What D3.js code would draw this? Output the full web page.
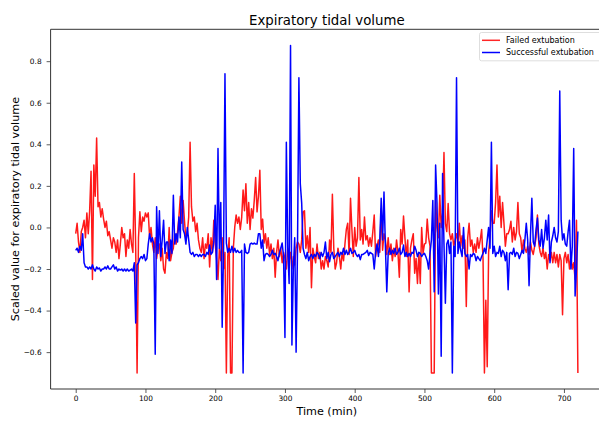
<!DOCTYPE html>
<html>
<head>
<meta charset="utf-8">
<script src="https://cdn.jsdelivr.net/npm/d3@7"></script>
<style>
  body { margin: 0; background: #ffffff; }
  svg { display: block; }
  text { font-family: "DejaVu Sans", sans-serif; fill: #000; }
</style>
</head>
<body>
<svg id="chart" width="599" height="422"></svg>
<script>
// Scaled expiratory tidal volume, one reading every 2 minutes (0..720 min)
const sampleStepMin = 2;

const failedValues = [
  -0.03, 0.02, -0.07, -0.12, -0.02, 0.0, 0.035, -0.05, 0.07, -0.03,
  0.08, 0.27, -0.25, 0.3, 0.15, 0.43, 0.1, 0.12, 0.05, 0.09,
  0.04, 0.0, 0.03, -0.04, -0.02, -0.06, -0.1, -0.05, -0.07, -0.12,
  -0.06, -0.15, -0.08, 0.0, -0.05, -0.03, -0.14, -0.06, -0.1, -0.01,
  -0.08, -0.12, 0.26, -0.1, -0.7, -0.05, 0.075, -0.02, 0.05, 0.03,
  0.07, 0.05, 0.07, -0.05, 0.0, -0.08, -0.12, -0.05, -0.15, -0.1,
  -0.08, -0.16, -0.1, -0.2, -0.22, -0.12, -0.15, 0.0, -0.16, -0.12,
  -0.1, -0.03, -0.08, -0.02, 0.05, 0.15, 0.02, 0.13, 0.03, -0.06,
  -0.03, 0.05, 0.41, 0.1, 0.03, 0.05, -0.02, 0.02, -0.06, -0.1,
  -0.12, -0.05, -0.15, -0.08, -0.1, -0.03, -0.19, -0.05, -0.12, 0.035,
  -0.08, -0.15, -0.25, -0.1, -0.16, -0.05, -0.2, -0.12, -0.7, -0.14,
  -0.05, -0.7, -0.7, -0.1, 0.0, 0.06, 0.02, 0.05, -0.01, 0.05,
  0.18, 0.08, 0.21, 0.02, 0.12, -0.01, 0.09, 0.045, 0.13, 0.24,
  0.075, 0.15, 0.275, -0.01, 0.04, -0.075, -0.03, -0.1, -0.05, -0.13,
  -0.08, -0.15, -0.1, -0.24, -0.12, -0.06, -0.14, -0.1, -0.17, -0.12,
  -0.15, -0.2, -0.1, -0.16, -0.12, -0.2, -0.14, -0.18, -0.1, -0.07,
  -0.08, -0.12, -0.06, 0.075, 0.08, -0.1, -0.04, -0.12, 0.0, -0.29,
  -0.1, -0.14, -0.17, -0.08, -0.15, -0.12, -0.2, -0.16, -0.2, -0.14,
  -0.16, -0.19, -0.06, -0.12, 0.16, -0.1, -0.2, -0.17, -0.1, -0.14,
  -0.2, -0.12, -0.16, -0.08, -0.01, 0.02, -0.13, 0.14, -0.01, -0.14,
  0.0, -0.09, -0.05, 0.24, -0.06, -0.01, -0.08, 0.05, -0.06, -0.04,
  -0.09, -0.05, -0.09, -0.02, 0.06, -0.14, -0.09, -0.06, -0.12, 0.09,
  -0.11, -0.03, -0.06, -0.13, -0.05, -0.13, -0.08, -0.16, -0.1, -0.14,
  -0.06, -0.12, -0.24, -0.01, -0.08, 0.055, -0.05, -0.14, -0.06, -0.31,
  -0.1, -0.06, -0.03, -0.22, -0.15, -0.27, -0.12, -0.27, 0.0, -0.125,
  -0.08, -0.075, 0.04, -0.05, -0.09, -0.7, -0.7, -0.7, 0.13, 0.0,
  -0.05, 0.155, 0.0, 0.07, 0.36, 0.02, -0.02, 0.115, -0.03, -0.06,
  -0.03, -0.09, -0.06, -0.03, -0.08, 0.02, -0.09, -0.04, -0.1, -0.06,
  -0.38, -0.05, 0.02, -0.09, -0.06, -0.12, -0.08, -0.12, -0.05, -0.1,
  -0.06, -0.01, -0.15, -0.7, -0.35, -0.67, -0.12, -0.05, 0.08, 0.02,
  0.02, 0.12, 0.3, 0.05, 0.15, 0.0, 0.12, 0.02, -0.09, -0.03,
  -0.03, -0.01, 0.03, -0.07, 0.0, -0.06, -0.02, 0.12, -0.03, -0.05,
  -0.12, -0.06, -0.1, -0.12, -0.09, -0.13, -0.07, -0.11, -0.13, -0.09,
  -0.05, 0.06, -0.08, -0.12, -0.14, -0.1, -0.15, -0.12, -0.2, -0.13,
  -0.16, -0.12, -0.17, -0.12, -0.17, -0.13, -0.19, -0.13, -0.16, -0.42,
  -0.15, -0.12, -0.17, -0.13, -0.2, -0.14, -0.2, -0.17, -0.25, 0.035, -0.7
];

const successValues = [
  -0.11, -0.1, -0.12, -0.09, -0.11, -0.03, -0.17, -0.19, -0.19, -0.2,
  -0.19, -0.2, -0.18, -0.2, -0.21, -0.19, -0.2, -0.195, -0.21, -0.2,
  -0.2, -0.19, -0.2, -0.185, -0.2, -0.2, -0.19, -0.18, -0.2, -0.19,
  -0.21, -0.2, -0.205, -0.2, -0.21, -0.2, -0.21, -0.2, -0.21, -0.205,
  -0.2, -0.21, -0.17, -0.46, -0.18, -0.17, -0.15, -0.14, -0.15, -0.13,
  -0.16, -0.15, -0.08, -0.03, -0.07, -0.05, -0.08, -0.61, 0.1, -0.125,
  0.08, -0.14, -0.06, 0.035, -0.125, -0.07, -0.07, -0.16, -0.06, -0.125,
  0.155, -0.08, -0.03, -0.07, 0.05, -0.05, 0.315, -0.01, -0.03, -0.08,
  0.0, -0.06, -0.12, -0.13, -0.12, -0.14, -0.13, -0.13, -0.14, -0.13,
  -0.14, -0.13, -0.13, -0.14, -0.12, -0.13, -0.085, -0.13, -0.12, -0.07,
  0.107, -0.25, 0.38, -0.1, 0.12, -0.48, -0.1, 0.74, -0.075, -0.12,
  -0.1, -0.12, -0.09, -0.12, -0.1, -0.12, -0.11, -0.12, -0.12, -0.11,
  -0.7, -0.08, -0.12, -0.125, -0.12, -0.08, -0.075, -0.08, -0.075, -0.08,
  -0.08, -0.03, -0.03, -0.1, -0.06, -0.16, -0.13, -0.125, -0.13, -0.14,
  -0.13, -0.11, -0.13, -0.125, -0.14, -0.16, -0.125, -0.1, -0.075, -0.14,
  -0.53, 0.41, -0.1, -0.27, 0.876, -0.566, -0.2, -0.05, -0.6, -0.1,
  0.72, 0.21, 0.117, -0.1, -0.13, -0.15, -0.12, -0.16, -0.14, -0.13,
  -0.15, -0.13, -0.14, -0.12, -0.13, -0.15, -0.12, -0.14, -0.12, -0.07,
  -0.15, -0.12, -0.165, -0.13, -0.12, -0.15, -0.14, -0.13, -0.12, -0.14,
  -0.12, -0.13, -0.1, -0.13, -0.11, -0.13, -0.12, -0.1, -0.125, -0.12,
  -0.11, -0.13, -0.14, -0.13, -0.155, -0.13, -0.13, -0.125, -0.12, -0.11,
  -0.135, -0.12, -0.125, -0.13, -0.2, -0.12, -0.08, -0.14, -0.06, 0.14,
  -0.06, 0.17, -0.09, -0.31, -0.125, -0.1, -0.13, -0.11, -0.125, -0.1,
  -0.13, -0.12, -0.1, -0.13, -0.12, -0.085, -0.14, -0.12, -0.14, -0.125,
  -0.14, -0.12, -0.125, -0.09, -0.11, -0.14, -0.12, -0.125, -0.14, -0.13,
  -0.125, -0.14, -0.16, -0.2, -0.125, -0.06, 0.13, -0.31, 0.3, 0.117,
  -0.32, 0.02, -0.62, 0.26, -0.08, -0.365, -0.08, -0.06, -0.125, -0.07,
  -0.7, -0.09, -0.14, 0.72, -0.125, -0.07, -0.11, -0.14, 0.0, -0.125,
  -0.14, -0.13, -0.2, -0.13, -0.14, -0.125, -0.13, -0.16, -0.14, -0.15,
  -0.16, -0.14, -0.125, -0.1, -0.125, -0.06, 0.0, -0.1, 0.41, -0.125,
  -0.09, -0.14, -0.12, -0.125, -0.09, -0.14, -0.11, -0.12, -0.16, -0.12,
  -0.3, -0.125, -0.12, -0.13, -0.1, -0.14, -0.12, -0.125, -0.15, -0.13,
  -0.11, -0.125, -0.06, 0.02, -0.06, -0.28, -0.04, 0.14, -0.07, -0.09,
  -0.01, 0.045, -0.06, -0.09, -0.01, -0.1, -0.05, 0.035, -0.06, 0.06,
  -0.17, -0.07, -0.04, 0.0, -0.05, -0.07, -0.02, 0.657, 0.035, -0.06,
  -0.03, -0.08, -0.09, -0.02, 0.035, -0.2, -0.09, 0.38, -0.33, -0.2, -0.02
];

const seriesNames = ["Failed extubation", "Successful extubation"];
const seriesColors = ["#ff0000", "#0000ff"];
const xTicks = [0, 100, 200, 300, 400, 500, 600, 700];
const yTicks = [-0.6, -0.4, -0.2, 0.0, 0.2, 0.4, 0.6, 0.8];
const titleText = "Expiratory tidal volume";
const xLabel = "Time (min)";
const yLabel = "Scaled value for expiratory tidal volume";

const svg = d3.select("#chart");
const plot = { left: 50.6, right: 603, top: 29.3, bottom: 389 };

const x = d3.scaleLinear().domain([-36, 756]).range([plot.left, plot.right]);
const y = d3.scaleLinear().domain([-0.7774, 0.9534]).range([plot.bottom, plot.top]);

const series = [failedValues, successValues].map((vals, k) => ({
  name: seriesNames[k],
  color: seriesColors[k],
  points: vals.map((v, i) => ({ t: i * sampleStepMin, v }))
}));

// clip to the axes box
svg.append("defs").append("clipPath").attr("id", "plotClip")
  .append("rect")
  .attr("x", plot.left).attr("y", plot.top)
  .attr("width", plot.right - plot.left).attr("height", plot.bottom - plot.top);

const line = d3.line().x(d => x(d.t)).y(d => y(d.v));

svg.append("g").attr("clip-path", "url(#plotClip)")
  .selectAll("path")
  .data(series)
  .join("path")
  .attr("d", d => line(d.points))
  .attr("fill", "none")
  .attr("stroke", d => d.color)
  .attr("stroke-width", 1.5)
  .attr("stroke-opacity", (d, i) => i === 0 ? 0.9 : 1)
  .attr("stroke-linejoin", "round");

// axes
const fmtY = d3.format(".1f");
const xAxis = svg.append("g")
  .attr("transform", `translate(0,${plot.bottom})`)
  .call(d3.axisBottom(x).tickValues(xTicks).tickFormat(d3.format("d")).tickSize(4).tickPadding(3));
const yAxis = svg.append("g")
  .attr("transform", `translate(${plot.left},0)`)
  .call(d3.axisLeft(y).tickValues(yTicks).tickFormat(fmtY).tickSize(4).tickPadding(5));

[xAxis, yAxis].forEach(g => {
  g.select(".domain").remove();
  g.selectAll(".tick line").attr("stroke", "#333").attr("stroke-width", 0.8);
  g.selectAll(".tick text").attr("font-size", 7.4).attr("fill", "#222")
    .style("font-family", "'DejaVu Sans', sans-serif");
});

// frame: left, bottom and top spines
const spine = svg.append("g").attr("stroke", "#333").attr("stroke-width", 1).attr("fill", "none");
spine.append("line").attr("x1", plot.left).attr("x2", plot.left).attr("y1", plot.top).attr("y2", plot.bottom);
spine.append("line").attr("x1", plot.left).attr("x2", plot.right).attr("y1", plot.bottom).attr("y2", plot.bottom);
spine.append("line").attr("x1", plot.left).attr("x2", plot.right).attr("y1", plot.top).attr("y2", plot.top);
spine.append("line").attr("x1", plot.right).attr("x2", plot.right).attr("y1", plot.top).attr("y2", plot.bottom);

// title and axis labels
svg.append("text")
  .attr("x", (plot.left + plot.right) / 2).attr("y", 25)
  .attr("text-anchor", "middle").attr("font-size", 13.3)
  .text(titleText);

svg.append("text")
  .attr("x", (plot.left + plot.right) / 2).attr("y", 415)
  .attr("text-anchor", "middle").attr("font-size", 11.2)
  .text(xLabel);

svg.append("text")
  .attr("transform", `translate(19,${(plot.top + plot.bottom) / 2}) rotate(-90)`)
  .attr("text-anchor", "middle").attr("font-size", 11.2)
  .text(yLabel);

// legend
const legend = svg.append("g");
legend.append("rect")
  .attr("x", 479.5).attr("y", 32.5).attr("width", 130).attr("height", 28.3)
  .attr("rx", 2).attr("fill", "#fff").attr("fill-opacity", 0.8)
  .attr("stroke", "#d5d5d5").attr("stroke-width", 0.8);

series.forEach((s, i) => {
  const ly = 40.3 + i * 12.2;
  legend.append("line")
    .attr("x1", 482).attr("x2", 500).attr("y1", ly).attr("y2", ly)
    .attr("stroke", s.color).attr("stroke-width", 1.5)
    .attr("stroke-opacity", i === 0 ? 0.85 : 1);
  legend.append("text")
    .attr("x", 506).attr("y", ly).attr("dy", "0.35em")
    .attr("font-size", 8).attr("fill", "#222")
    .text(s.name);
});
</script>
</body>
</html>
